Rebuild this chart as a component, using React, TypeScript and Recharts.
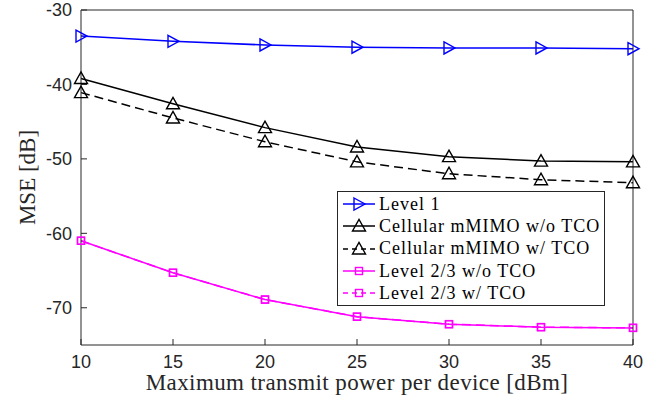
import React from "react";
import { LineChart, Line, XAxis, YAxis, Label } from "recharts";

const powers = [10, 15, 20, 25, 30, 35, 40];
const level1 = [-33.5, -34.2, -34.7, -35.0, -35.1, -35.1, -35.2];
const cellularNoTco = [-39.2, -42.6, -45.8, -48.4, -49.7, -50.3, -50.4];
const cellularTco = [-41.1, -44.5, -47.7, -50.4, -52.0, -52.8, -53.2];
const level23NoTco = [-61.0, -65.3, -68.9, -71.2, -72.2, -72.6, -72.7];
const level23Tco = [-61.0, -65.3, -68.9, -71.2, -72.2, -72.6, -72.7];
const xTicks = [10, 15, 20, 25, 30, 35, 40];
const yTicks = [-70, -60, -50, -40, -30];

const data = powers.map((p, i) => ({
  p,
  level1: level1[i],
  cellNo: cellularNoTco[i],
  cellTco: cellularTco[i],
  l23No: level23NoTco[i],
  l23Tco: level23Tco[i],
}));

const BLUE = "#0000ff";
const MAGENTA = "#ff00ff";
const AXIS = "#262626";
const SERIF = "'Liberation Serif', 'DejaVu Serif', serif";
const SANS = "'Liberation Sans', Arial, sans-serif";

const RightTri = ({ cx, cy, color }: any) => (
  <path d={`M${cx - 5},${cy - 6} L${cx + 6},${cy} L${cx - 5},${cy + 6} Z`} fill="none" stroke={color} strokeWidth={1.4} />
);
const UpTri = ({ cx, cy, color }: any) => (
  <path d={`M${cx - 6.5},${cy + 5} L${cx},${cy - 6.5} L${cx + 6.5},${cy + 5} Z`} fill="none" stroke={color} strokeWidth={1.4} />
);
const Square = ({ cx, cy, color }: any) => (
  <rect x={cx - 3.5} y={cy - 3.5} width={7} height={7} fill="none" stroke={color} strokeWidth={1.4} />
);

const series = [
  { key: "level1", name: "Level 1", color: BLUE, dash: undefined, Marker: RightTri },
  { key: "cellNo", name: "Cellular mMIMO w/o TCO", color: "#000", dash: undefined, Marker: UpTri },
  { key: "cellTco", name: "Cellular mMIMO w/ TCO", color: "#000", dash: "9 5", Marker: UpTri },
  { key: "l23No", name: "Level 2/3 w/o TCO", color: MAGENTA, dash: undefined, Marker: Square },
  { key: "l23Tco", name: "Level 2/3 w/ TCO", color: MAGENTA, dash: "9 5", Marker: Square },
];

const LegendBox = () => (
  <div
    style={{
      position: "absolute",
      left: 337,
      top: 191,
      width: 268,
      height: 115,
      boxSizing: "border-box",
      border: `1px solid ${AXIS}`,
      background: "#fff",
      paddingTop: 1,
      fontFamily: SERIF,
      fontSize: 18,
      letterSpacing: 1,
      color: "#000",
    }}
  >
    {series.map((s) => {
      const M = s.Marker;
      return (
        <div key={s.key} style={{ display: "flex", alignItems: "center", height: 22.3, whiteSpace: "nowrap" }}>
          <svg width={36} height={22} style={{ marginLeft: 4, flex: "none" }}>
            <line x1={1} y1={11} x2={33} y2={11} stroke={s.color} strokeWidth={1.5} strokeDasharray={s.dash ? "5 4" : undefined} />
            <M cx={17} cy={11} color={s.color} />
          </svg>
          <span style={{ marginLeft: 1 }}>{s.name}</span>
        </div>
      );
    })}
  </div>
);

export default function App() {
  return (
    <div style={{ position: "relative", width: 667, height: 404 }}>
      <style>{`body{margin:0;background:#fff}`}</style>
      <LineChart width={667} height={404} data={data} margin={{ top: 9, right: 33, left: 0, bottom: 0 }}>
        <XAxis
          dataKey="p"
          type="number"
          domain={[10, 40]}
          ticks={xTicks}
          interval={0}
          height={59}
          tickSize={-6}
          tickMargin={16}
          axisLine={{ stroke: AXIS }}
          tickLine={{ stroke: AXIS }}
          tick={{ fill: AXIS, fontSize: 18, fontFamily: SANS }}
        >
          <Label
            value="Maximum transmit power per device [dBm]"
            position="insideBottom"
            offset={14}
            style={{ fontFamily: SERIF, fontSize: 23, letterSpacing: 0.4, fill: AXIS }}
          />
        </XAxis>
        <XAxis
          xAxisId="top"
          orientation="top"
          dataKey="p"
          type="number"
          domain={[10, 40]}
          ticks={xTicks}
          height={1}
          tickSize={-6}
          tick={false}
          axisLine={{ stroke: AXIS }}
          tickLine={{ stroke: AXIS }}
        />
        <YAxis
          type="number"
          domain={[-75, -30]}
          ticks={yTicks}
          interval={0}
          width={81}
          tickSize={-6}
          tickMargin={15}
          axisLine={{ stroke: AXIS }}
          tickLine={{ stroke: AXIS }}
          tick={{ fill: AXIS, fontSize: 18, fontFamily: SANS }}
        >
          <Label
            value="MSE [dB]"
            angle={-90}
            position="insideLeft"
            offset={27}
            style={{ fontFamily: SERIF, fontSize: 23, fill: AXIS, textAnchor: "middle" }}
          />
        </YAxis>
        <YAxis
          yAxisId="right"
          orientation="right"
          type="number"
          domain={[-75, -30]}
          ticks={yTicks}
          width={1}
          tickSize={-6}
          tick={false}
          axisLine={{ stroke: AXIS }}
          tickLine={{ stroke: AXIS }}
        />
        {series.map((s) => (
          <Line
            key={s.key}
            dataKey={s.key}
            name={s.name}
            stroke={s.color}
            strokeWidth={1.5}
            strokeDasharray={s.dash}
            isAnimationActive={false}
            dot={(props: any) => <s.Marker key={props.index} cx={props.cx} cy={props.cy} color={s.color} />}
            activeDot={false}
          />
        ))}
      </LineChart>
      <LegendBox />
    </div>
  );
}
